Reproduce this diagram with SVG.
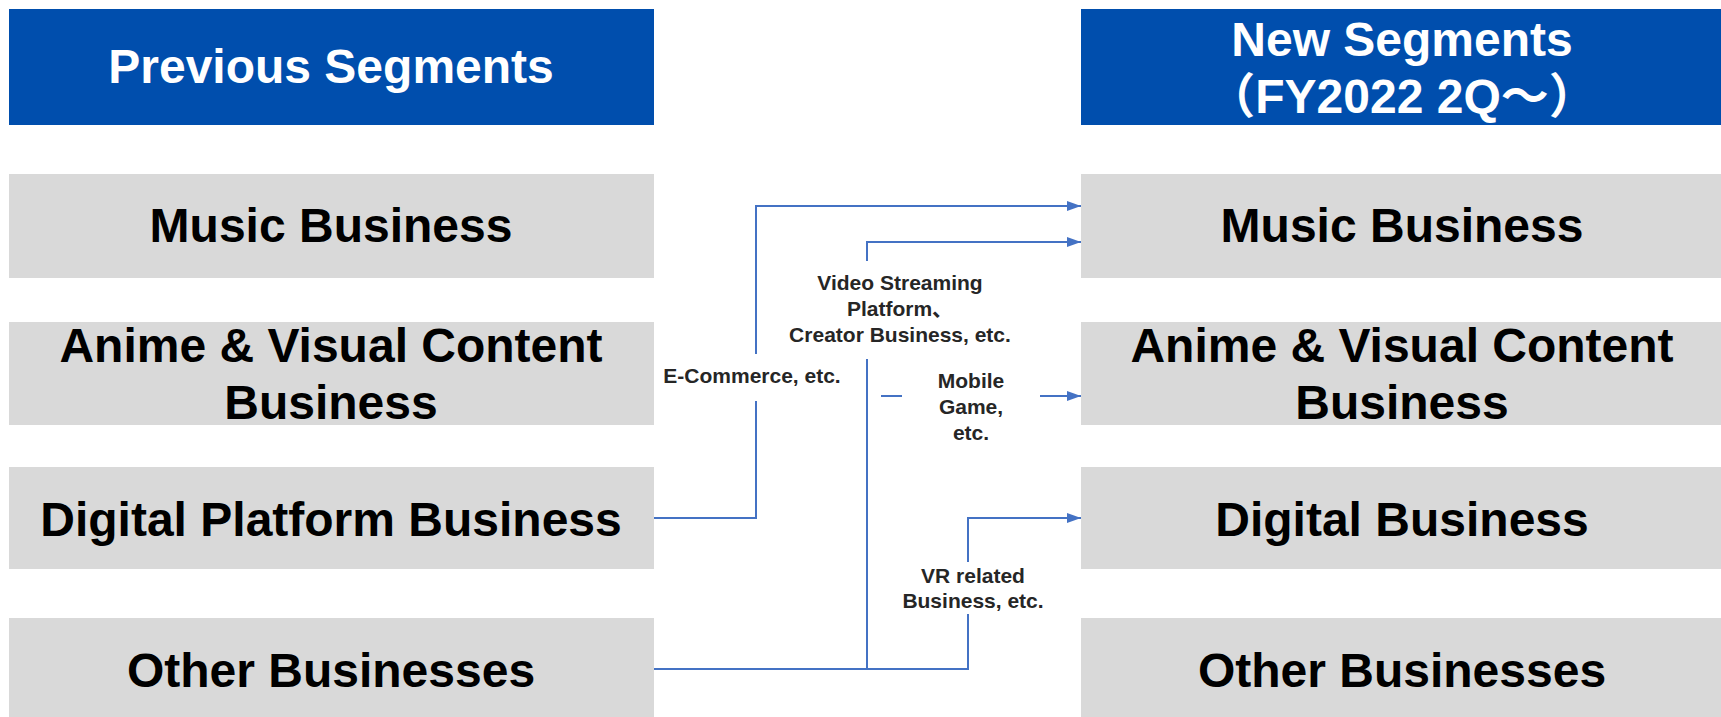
<svg xmlns="http://www.w3.org/2000/svg" width="1721" height="717" viewBox="0 0 1721 717">
  <style>
    text { font-family: "Liberation Sans", Arial, "Noto Sans CJK JP", sans-serif; font-weight: bold; text-anchor: middle; }
    .hdr { fill: #004EAD; }
    .box { fill: #D9D9D9; }
    .hdr-t { fill: #FFFFFF; font-size: 48px; }
    .box-t { fill: #000000; font-size: 48px; }
    .lbl { fill: #262626; font-size: 21px; }
    .wire { fill: none; stroke: #4472C4; stroke-width: 2; }
  </style>
  <defs>
    <marker id="arrow" markerWidth="7" markerHeight="5" refX="7" refY="2.5" orient="auto" markerUnits="strokeWidth">
      <path d="M0,0 L7,2.5 L0,5 Z" fill="#4472C4"/>
    </marker>
  </defs>

  <rect width="1721" height="717" fill="#FFFFFF"/>

  <!-- column headers -->
  <g id="hdr-previous">
    <rect class="hdr" x="9" y="9" width="645" height="116"/>
    <text class="hdr-t" x="331" y="83">Previous Segments</text>
  </g>
  <g id="hdr-new">
    <rect class="hdr" x="1081" y="9" width="640" height="116"/>
    <text class="hdr-t" x="1402" y="56">New Segments</text>
    <text class="hdr-t" x="1402" y="113">（FY2022 2Q～）</text>
  </g>

  <!-- previous segments -->
  <g id="prev-music">
    <rect class="box" x="9" y="174" width="645" height="104"/>
    <text class="box-t" x="331" y="242">Music Business</text>
  </g>
  <g id="prev-anime">
    <rect class="box" x="9" y="322" width="645" height="103"/>
    <text class="box-t" x="331" y="362">Anime &amp; Visual Content</text>
    <text class="box-t" x="331" y="419">Business</text>
  </g>
  <g id="prev-digital">
    <rect class="box" x="9" y="467" width="645" height="102"/>
    <text class="box-t" x="331" y="536">Digital Platform Business</text>
  </g>
  <g id="prev-other">
    <rect class="box" x="9" y="618" width="645" height="99"/>
    <text class="box-t" x="331" y="687">Other Businesses</text>
  </g>

  <!-- new segments -->
  <g id="new-music">
    <rect class="box" x="1081" y="174" width="640" height="104"/>
    <text class="box-t" x="1402" y="242">Music Business</text>
  </g>
  <g id="new-anime">
    <rect class="box" x="1081" y="322" width="640" height="103"/>
    <text class="box-t" x="1402" y="362">Anime &amp; Visual Content</text>
    <text class="box-t" x="1402" y="419">Business</text>
  </g>
  <g id="new-digital">
    <rect class="box" x="1081" y="467" width="640" height="102"/>
    <text class="box-t" x="1402" y="536">Digital Business</text>
  </g>
  <g id="new-other">
    <rect class="box" x="1081" y="618" width="640" height="99"/>
    <text class="box-t" x="1402" y="687">Other Businesses</text>
  </g>

  <!-- connectors -->
  <g id="connectors">
    <!-- Digital Platform -> Music (E-Commerce) -->
    <polyline class="wire" points="654,518 756,518 756,401"/>
    <polyline class="wire" points="756,354 756,206 1081,206" marker-end="url(#arrow)"/>
    <!-- Other -> Music (Video Streaming / Creator) -->
    <polyline class="wire" points="654,669 968,669 968,614"/>
    <line class="wire" x1="867" y1="669" x2="867" y2="359"/>
    <polyline class="wire" points="867,261 867,242 1081,242" marker-end="url(#arrow)"/>
    <!-- Mobile Game -> Anime -->
    <line class="wire" x1="881" y1="396" x2="902" y2="396"/>
    <line class="wire" x1="1040" y1="396" x2="1081" y2="396" marker-end="url(#arrow)"/>
    <!-- VR related -> Digital -->
    <polyline class="wire" points="968,562 968,518 1081,518" marker-end="url(#arrow)"/>
  </g>

  <!-- connector labels -->
  <g id="labels">
    <text class="lbl" x="900" y="290">Video Streaming</text>
    <text class="lbl" x="900" y="316">Platform、</text>
    <text class="lbl" x="900" y="342">Creator Business, etc.</text>
    <text class="lbl" x="752" y="383">E-Commerce, etc.</text>
    <text class="lbl" x="971" y="388">Mobile</text>
    <text class="lbl" x="971" y="414">Game,</text>
    <text class="lbl" x="971" y="440">etc.</text>
    <text class="lbl" x="973" y="583">VR related</text>
    <text class="lbl" x="973" y="608">Business, etc.</text>
  </g>
</svg>
